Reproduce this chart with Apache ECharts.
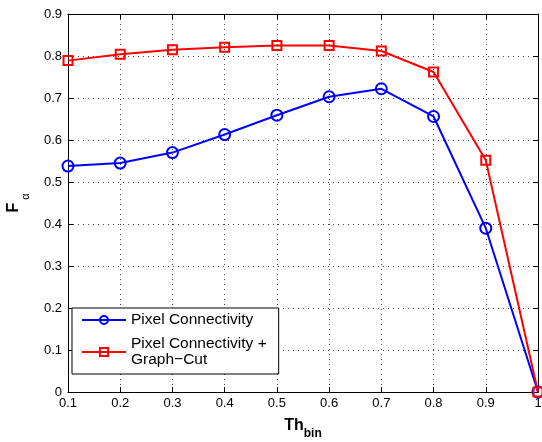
<!DOCTYPE html>
<html>
<head>
<meta charset="utf-8">
<script src="https://cdn.jsdelivr.net/npm/echarts@6/dist/echarts.min.js"></script>
<style>
  html, body { margin: 0; padding: 0; background: #fff; }
  #chart { width: 542px; height: 442px; }
</style>
</head>
<body>
<div id="chart"></div>
<script>
// threshold values on x axis
const thBin = [0.1, 0.2, 0.3, 0.4, 0.5, 0.6, 0.7, 0.8, 0.9, 1];
// F-alpha values
const pixelConn = [0.538, 0.545, 0.570, 0.613, 0.659, 0.703, 0.722, 0.656, 0.390, 0];
const pixelConnGC = [0.789, 0.804, 0.815, 0.821, 0.825, 0.825, 0.812, 0.762, 0.552, 0];
const seriesNames = ['Pixel Connectivity', 'Pixel Connectivity +\nGraph\u2212Cut'];

const font = 'Liberation Sans, Arial, Helvetica, sans-serif';
const gridLine = { show: true, lineStyle: { color: '#444', width: 1, type: [1, 4] } };
const tickIn = { show: true, inside: true, length: 5, lineStyle: { color: '#000' } };
const axisLine = { show: true, onZero: false, lineStyle: { color: '#000', width: 1 } };

let toPairs = function(xs, ys) {
  return xs.map((x, i) => [x, ys[i]])
}

let myChart = echarts.init(document.getElementById('chart'))
let option = {
  animation: false,
  backgroundColor: '#fff',
  grid: { left: 68, right: 4, top: 14, bottom: 50, outerBoundsMode: 'none', containLabel: false },
  legend: {
    orient: 'vertical',
    left: 72,
    top: 308,
    padding: [4, 12, 6, 9],
    itemGap: 8,
    itemWidth: 44,
    itemHeight: 10,
    borderColor: '#000',
    borderWidth: 1,
    backgroundColor: '#fff',
    textStyle: { fontFamily: font, fontSize: 15.5, color: '#000', lineHeight: 16 },
    data: seriesNames
  },
  xAxis: [
    {
      type: 'value',
      min: 0.1,
      max: 1,
      interval: 0.1,
      name: '{b|Th}{s|bin}',
      nameLocation: 'middle',
      nameGap: 20,
      nameTextStyle: {
        rich: {
          b: { fontFamily: font, fontSize: 16, fontWeight: 'bold', color: '#000' },
          s: { fontFamily: font, fontSize: 12, fontWeight: 'bold', color: '#000', padding: [16, 0, 0, 0] }
        }
      },
      axisLine: axisLine,
      axisTick: tickIn,
      splitLine: gridLine,
      axisLabel: {
        fontFamily: font, fontSize: 13, color: '#000', margin: 5,
        formatter: v => String(+v.toFixed(1))
      }
    },
    {
      type: 'value', position: 'top', min: 0.1, max: 1, interval: 0.1,
      axisLine: axisLine, axisTick: tickIn, splitLine: { show: false }, axisLabel: { show: false }
    }
  ],
  yAxis: [
    {
      type: 'value',
      min: 0,
      max: 0.9,
      interval: 0.1,
      name: '{b|F}{s|\u03b1}',
      nameLocation: 'middle',
      nameRotate: 90,
      nameGap: 37,
      nameTextStyle: {
        rich: {
          b: { fontFamily: font, fontSize: 16, fontWeight: 'bold', color: '#000' },
          s: { fontFamily: font, fontSize: 11, color: '#000', padding: [24, 0, 0, 3] }
        }
      },
      axisLine: axisLine,
      axisTick: tickIn,
      splitLine: gridLine,
      axisLabel: {
        fontFamily: font, fontSize: 13, color: '#000', margin: 6,
        formatter: v => String(+v.toFixed(1))
      }
    },
    {
      type: 'value', position: 'right', min: 0, max: 0.9, interval: 0.1,
      axisLine: axisLine, axisTick: tickIn, splitLine: { show: false }, axisLabel: { show: false }
    }
  ],
  series: [
    {
      name: seriesNames[0],
      type: 'line',
      color: '#0000ff',
      symbol: 'circle',
      symbolSize: 11,
      itemStyle: { color: 'rgba(255,255,255,0)', borderColor: '#0000ff', borderWidth: 2 },
      lineStyle: { color: '#0000ff', width: 2 },
      data: toPairs(thBin, pixelConn)
    },
    {
      name: seriesNames[1],
      type: 'line',
      color: '#ff0000',
      symbol: 'rect',
      symbolSize: 9,
      itemStyle: { color: 'rgba(255,255,255,0)', borderColor: '#ff0000', borderWidth: 2 },
      lineStyle: { color: '#ff0000', width: 2 },
      data: toPairs(thBin, pixelConnGC)
    }
  ]
}
myChart.setOption(option)
</script>
</body>
</html>
